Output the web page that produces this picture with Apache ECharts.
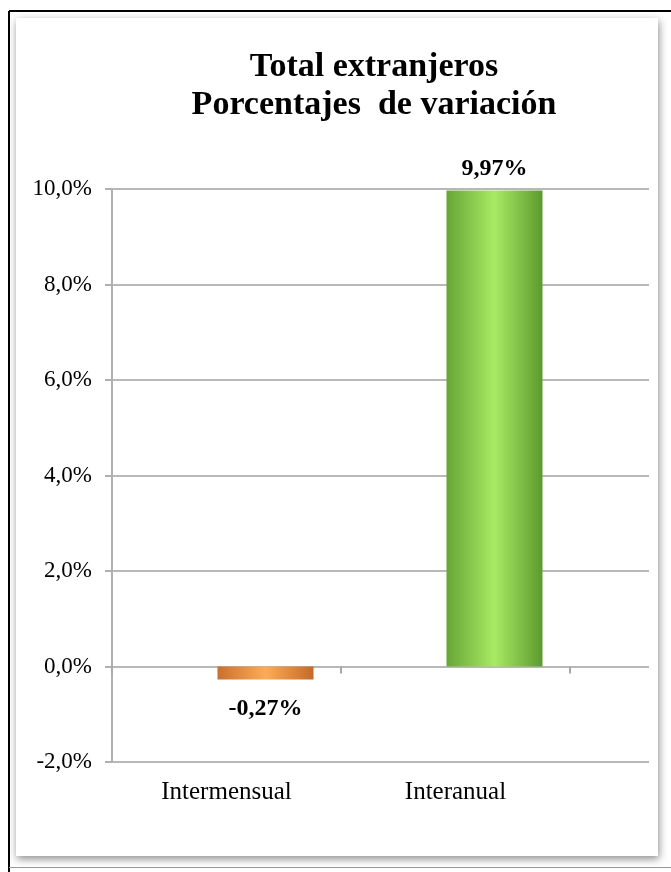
<!DOCTYPE html>
<html>
<head>
<meta charset="utf-8">
<script src="https://cdn.jsdelivr.net/npm/echarts@6/dist/echarts.min.js"></script>
<style>
html,body{margin:0;padding:0;background:#fff;}
#c{width:671px;height:872px;}
</style>
</head>
<body>
<div id="c"></div>
<script>
var titleLines = ['Total extranjeros', 'Porcentajes  de variación'];
var categories = ['Intermensual', 'Interanual', ''];
var values = [-0.27, 9.97];
var yMin = -2, yMax = 10, yStep = 2;

function fmtPct(v, d) { return v.toFixed(d).replace('.', ',') + '%'; }

var orangeGrad = new echarts.graphic.LinearGradient(0, 0, 1, 0, [
  {offset: 0, color: '#c8702e'}, {offset: 0.5, color: '#fdab58'}, {offset: 1, color: '#c46a28'}]);
var greenGrad = new echarts.graphic.LinearGradient(0, 0, 1, 0, [
  {offset: 0, color: '#66a636'}, {offset: 0.5, color: '#a9ea63'}, {offset: 1, color: '#5c9a2e'}]);

var barData = values.map(function (v, i) {
  return {
    value: v,
    itemStyle: {color: v < 0 ? orangeGrad : greenGrad},
    label: {position: v < 0 ? 'bottom' : 'top', distance: v < 0 ? 17 : 10}
  };
});

var serif = '"Liberation Serif", "Times New Roman", serif';
var chart = echarts.init(document.getElementById('c'), null, {renderer: 'canvas'});
chart.setOption({
  animation: false,
  backgroundColor: '#fff',
  graphic: [
    {type: 'rect', z: -10, shape: {x: 16, y: 18, width: 642, height: 838},
     style: {fill: '#fff', shadowBlur: 8, shadowColor: 'rgba(0,0,0,0.45)', shadowOffsetX: 1, shadowOffsetY: 3}},
    {type: 'line', z: -5, shape: {x1: 9, y1: 11, x2: 671, y2: 11}, style: {stroke: '#000', lineWidth: 2}},
    {type: 'line', z: -5, shape: {x1: 9, y1: 11, x2: 9, y2: 872}, style: {stroke: '#000', lineWidth: 2}},
    {type: 'line', z: -5, shape: {x1: 9, y1: 867.5, x2: 671, y2: 867.5}, style: {stroke: '#999', lineWidth: 1}}
  ],
  title: {
    text: titleLines.join('\n'),
    left: 369, top: 43, textAlign: 'center',
    textStyle: {fontFamily: serif, fontWeight: 'bold', fontSize: 34, lineHeight: 38, color: '#000'}
  },
  grid: [
    {left: 112, right: 22, top: 189, bottom: 110, outerBoundsMode: 'none'},
    {left: 112, width: 687, top: 189, bottom: 110, outerBoundsMode: 'none'}
  ],
  xAxis: [
    {gridIndex: 0, type: 'category', data: categories.slice(0, 2), show: false},
    {gridIndex: 1, type: 'category', data: categories, position: 'bottom',
     axisLine: {show: false, onZero: false}, axisTick: {show: false},
     axisLabel: {fontFamily: serif, fontSize: 25, color: '#000', margin: 18}},
    {gridIndex: 1, type: 'category', data: categories, position: 'bottom',
     axisLine: {show: false, onZero: true}, axisTick: {show: true, length: 7, lineStyle: {color: '#a8a8a8', width: 2}},
     axisLabel: {show: false}}
  ],
  yAxis: [
    {gridIndex: 0, type: 'value', min: yMin, max: yMax, interval: yStep,
     axisLine: {show: true, lineStyle: {color: '#b0b0b0', width: 2}},
     axisTick: {show: true, length: 7, lineStyle: {color: '#b0b0b0', width: 2}},
     splitLine: {show: true, lineStyle: {color: '#b8b8b8', width: 2}},
     axisLabel: {fontFamily: serif, fontSize: 23, color: '#000', margin: 20,
       formatter: function (v) { return fmtPct(v, 1); }}},
    {gridIndex: 1, type: 'value', min: yMin, max: yMax, interval: yStep, show: false, splitLine: {show: false}}
  ],
  series: [
    {type: 'bar', xAxisIndex: 1, yAxisIndex: 1, data: values.map(function () { return '-'; }),
     barWidth: 96, barGap: '-18.75%', silent: true},
    {type: 'bar', xAxisIndex: 1, yAxisIndex: 1, data: barData, barWidth: 96, barGap: '-18.75%', z: 5,
     label: {show: true, fontFamily: serif, fontWeight: 'bold', fontSize: 24, color: '#000',
       formatter: function (p) { return fmtPct(p.value, 2); }}}
  ]
});
</script>
</body>
</html>
